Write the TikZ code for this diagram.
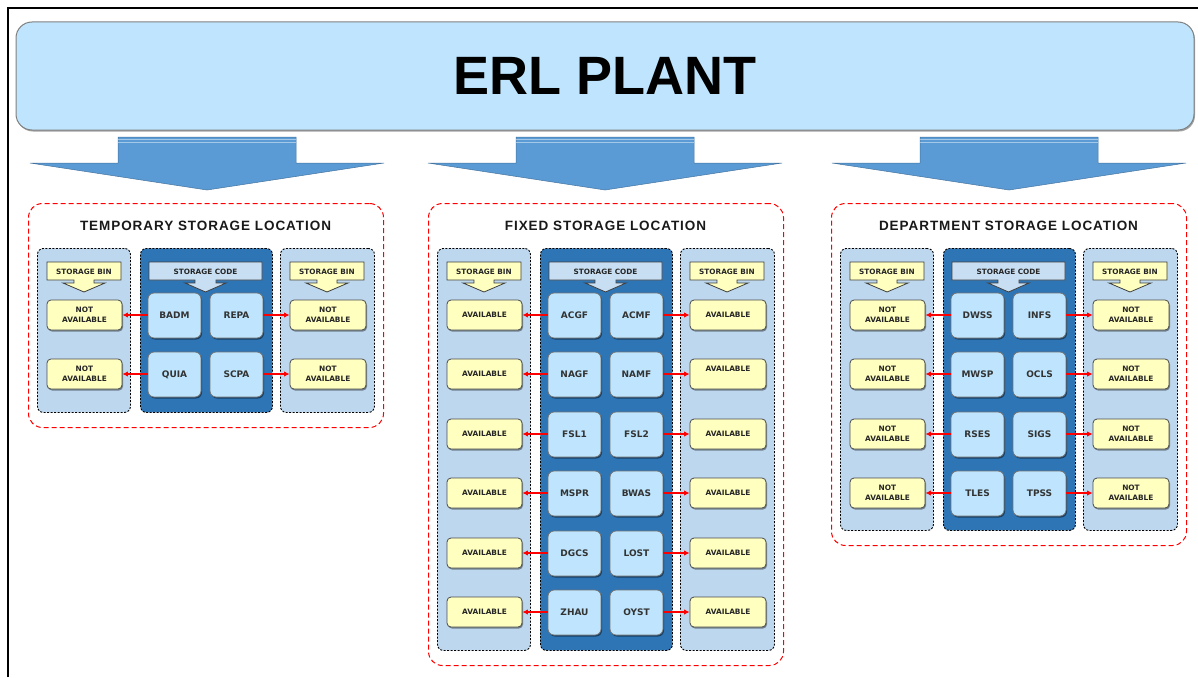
\documentclass[tikz,border=0pt]{standalone}
\usepackage{fontspec}
\setmainfont{Liberation Sans}
\newfontfamily\dvfont{DejaVu Sans}
\newfontfamily\titlefont[LetterSpace=7]{Liberation Sans}
\usetikzlibrary{shadows,arrows.meta}
\definecolor{bannerfill}{RGB}{190,229,253}
\definecolor{arrowblue}{RGB}{91,155,213}
\definecolor{sidefill}{RGB}{189,215,238}
\definecolor{midfill}{RGB}{46,117,182}
\definecolor{codefill}{RGB}{190,229,253}
\definecolor{yellowfill}{RGB}{255,255,192}
\definecolor{codeheadfill}{RGB}{200,222,242}
\tikzset{
  banner/.style={draw=black!50, line width=1pt, fill=bannerfill, rounded corners=16pt,
    drop shadow={shadow xshift=1pt, shadow yshift=-1.5pt, fill=black!60, opacity=0.6},
    font=\fontsize{54}{60}\selectfont\bfseries, text=black, inner sep=0},
  bigarrow/.style={fill=arrowblue, draw=arrowblue!75!black, line width=0.5pt},
  stripe/.style={draw=white, opacity=0.45, line width=0.8pt},
  groupbox/.style={draw=red, dash pattern=on 5pt off 3pt, line width=1pt, rounded corners=14pt, inner sep=0},
  grouptitle/.style={font=\titlefont\fontsize{13.5}{16}\selectfont\bfseries, text=black!90},
  sidecol/.style={draw=black, fill=sidefill, dash pattern=on 2pt off 1.5pt, line width=0.9pt, rounded corners=6pt, inner sep=0},
  midcol/.style={sidecol, fill=midfill},
  binhead/.style={fill=yellowfill, draw=black!75, line width=0.8pt},
  codehead/.style={fill=codeheadfill, draw=black!75, line width=0.8pt},
  headtext/.style={font=\dvfont\bfseries\fontsize{7.3}{9}\selectfont, text=black!85, inner sep=0},
  codebox/.style={draw=black!55, line width=0.8pt, fill=codefill, rounded corners=6pt,
    minimum width=53pt, minimum height=45pt, inner sep=0,
    font=\dvfont\bfseries\fontsize{9}{11}\selectfont, text=black!80,
    drop shadow={shadow xshift=1pt, shadow yshift=-1.5pt, fill=black, opacity=0.45}},
  availbox/.style={draw=black!70, line width=0.8pt, fill=yellowfill, rounded corners=4pt,
    minimum height=30pt, inner sep=0, align=center,
    font=\dvfont\bfseries\fontsize{7.4}{10}\selectfont, text=black!85,
    drop shadow={shadow xshift=1pt, shadow yshift=-1.5pt, fill=black, opacity=0.4}},
  rowflat/.style={},
  rowraised/.style={text depth=10pt},
  redarrow/.style={draw=red, line width=2pt, -{Latex[length=5.5pt,width=5.5pt]}},
}
% #1 name, #2 left x, #3 bottom y, #4 title, #5 bin text, #6 list of code1/code2/row y/right text style
\newcommand\storagegroup[6]{%
  \node[groupbox, anchor=north west, minimum width=355pt, minimum height={#3-203}] (#1) at (#2,203) {};
  \node[grouptitle] (#1-title) at (#2+177.5,226) {#4};
  \node[sidecol, anchor=north west, minimum width=93pt, minimum height={#3-15-248}] (#1-lc) at (#2+9,248) {};
  \node[midcol, anchor=north west, minimum width=132pt, minimum height={#3-15-248}] (#1-mc) at (#2+112,248) {};
  \node[sidecol, anchor=north west, minimum width=94pt, minimum height={#3-15-248}] (#1-rc) at (#2+252,248) {};
  % headers
  \path[binhead] (#2+19,262) -- (#2+93,262) -- (#2+93,280) -- (#2+66,280) -- (#2+66,283) -- (#2+77,283)
     -- (#2+56,292) -- (#2+35,283) -- (#2+46,283) -- (#2+46,280) -- (#2+19,280) -- cycle;
  \node[headtext] (#1-lh) at (#2+56,271.5) {STORAGE BIN};
  \path[codehead] (#2+121,262) -- (#2+234,262) -- (#2+234,280) -- (#2+188,280) -- (#2+188,283) -- (#2+198,283)
     -- (#2+177.5,292) -- (#2+157,283) -- (#2+167,283) -- (#2+167,280) -- (#2+121,280) -- cycle;
  \node[headtext] (#1-mh) at (#2+177.5,271.5) {STORAGE CODE};
  \path[binhead] (#2+262,262) -- (#2+336,262) -- (#2+336,280) -- (#2+309,280) -- (#2+309,283) -- (#2+320,283)
     -- (#2+299,292) -- (#2+278,283) -- (#2+289,283) -- (#2+289,280) -- (#2+262,280) -- cycle;
  \node[headtext] (#1-rh) at (#2+299,271.5) {STORAGE BIN};
  \foreach \ca/\cb/\ry/\rs [count=\i] in {#6} {
    \node[codebox] (#1-a\i) at (#2+146.5,\ry+0.5) {\ca};
    \node[codebox] (#1-b\i) at (#2+208.5,\ry+0.5) {\cb};
    \node[availbox, minimum width=75pt] (#1-l\i) at (#2+56.5,\ry) {#5};
    \node[availbox, minimum width=76pt, \rs] (#1-r\i) at (#2+300,\ry) {#5};
    \draw[redarrow] (#1-a\i.west |- #1-l\i.east) -- (#1-l\i.east);
    \draw[redarrow] (#1-b\i.east |- #1-r\i.west) -- (#1-r\i.west);
  }
}
\newcommand\bigdownarrow[1]{%
  \path[bigarrow] (#1-89,137) -- (#1+89,137) -- (#1+89,163) -- (#1+177,163) -- (#1,190)
     -- (#1-177,163) -- (#1-89,163) -- cycle;
  \draw[stripe] (#1-89,139.5) -- (#1+89,139.5);
  \draw[stripe] (#1-89,142.5) -- (#1+89,142.5);
}
\begin{document}
\begin{tikzpicture}[x=1pt,y=-1pt]
\useasboundingbox (0,0) rectangle (1198,677);
\fill[white] (0,0) rectangle (1198,677);
\draw[line width=2pt, black] (8,677) -- (8,8) -- (1198,8);
\node[banner, minimum width=1178pt, minimum height=108pt] (plant) at (605,76) {ERL PLANT};
\bigdownarrow{207}
\bigdownarrow{605}
\bigdownarrow{1009}
\storagegroup{tmp}{28}{427}{TEMPORARY STORAGE LOCATION}{NOT\\AVAILABLE}{BADM/REPA/315/rowflat,QUIA/SCPA/374/rowflat}
\storagegroup{fix}{428}{665}{FIXED STORAGE LOCATION}{AVAILABLE}{ACGF/ACMF/315/rowflat,NAGF/NAMF/374/rowraised,FSL1/FSL2/434/rowflat,MSPR/BWAS/493/rowflat,DGCS/LOST/553/rowflat,ZHAU/OYST/612/rowflat}
\storagegroup{dep}{831}{545}{DEPARTMENT STORAGE LOCATION}{NOT\\AVAILABLE}{DWSS/INFS/315/rowflat,MWSP/OCLS/374/rowflat,RSES/SIGS/434/rowflat,TLES/TPSS/493/rowflat}
\end{tikzpicture}
\end{document}
